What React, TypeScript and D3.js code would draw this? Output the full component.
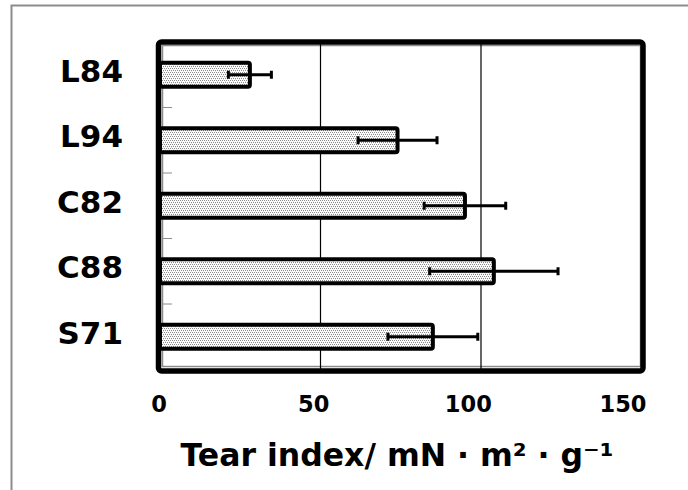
import React from "react";
import * as d3 from "d3";

const categories = ["L84", "L94", "C82", "C88", "S71"];
const values = [28, 74, 95, 104, 85];
const errors = [6.7, 12.3, 12.7, 20, 14];
const xTicks = [0, 50, 100, 150];

const W = 688;
const H = 490;

export default function App() {
  const x = d3.scaleLinear().domain([0, 150]).range([160, 641.5]);
  const xLabel = d3.scaleLinear().domain([0, 150]).range([159, 623]);
  const p = 1 - 24 / 65.5;
  const y = d3
    .scaleBand<string>()
    .domain(categories)
    .range([42, 369.5])
    .paddingInner(p)
    .paddingOuter(p / 2);
  const step = y.step();
  const bw = y.bandwidth();
  const font = "'DejaVu Sans', Verdana, sans-serif";

  return (
    <svg
      width={W}
      height={H}
      style={{ position: "absolute", left: 0, top: 0, background: "#fff" }}
    >
      <defs>
        <pattern id="dots" width={4} height={4} patternUnits="userSpaceOnUse">
          <rect width={4} height={4} fill="#fff" />
          <rect x={0} y={0} width={1} height={1} fill="#8a8a8a" />
          <rect x={2} y={0} width={1} height={1} fill="#8a8a8a" />
          <rect x={1} y={2} width={1} height={1} fill="#8a8a8a" />
          <rect x={3} y={2} width={1} height={1} fill="#8a8a8a" />
          <rect x={1} y={1} width={1} height={1} fill="#e4e4e4" />
          <rect x={3} y={3} width={1} height={1} fill="#e4e4e4" />
        </pattern>
      </defs>
      {/* outer chart border */}
      <rect x={11.5} y={5.5} width={W + 20} height={H + 20} fill="none" stroke="#8c8c8c" strokeWidth={2} />

      {/* plot area border (gray) */}
      <rect x={162.5} y={45.5} width={478} height={321} fill="none" stroke="#8c8c8c" strokeWidth={1.5} />

      {/* gridlines */}
      {xTicks.slice(1, 3).map((t) => (
        <line key={t} x1={x(t)} x2={x(t)} y1={42} y2={369} stroke="#000" strokeWidth={1.2} />
      ))}

      {/* y ticks */}
      {categories.slice(1).map((c, i) => {
        const yy = 42 + (i + 1) * step;
        return <line key={c} x1={162} x2={172} y1={yy} y2={yy} stroke="#8c8c8c" strokeWidth={1} />;
      })}

      {/* bars */}
      {categories.map((c, i) => (
        <rect
          key={c}
          x={x(0)}
          y={y(c)!}
          width={x(values[i]) - x(0)}
          height={bw}
          rx={2}
          fill="url(#dots)"
          stroke="#000"
          strokeWidth={4}
        />
      ))}

      {/* error bars */}
      {categories.map((c, i) => {
        const cy = y(c)! + bw / 2;
        const lo = x(values[i] - errors[i]);
        const hi = x(values[i] + errors[i]);
        return (
          <g key={c} stroke="#000" strokeWidth={3}>
            <line x1={lo} x2={hi} y1={cy} y2={cy} />
            <line x1={lo} x2={lo} y1={cy - 4} y2={cy + 4} />
            <line x1={hi} x2={hi} y1={cy - 4} y2={cy + 4} />
          </g>
        );
      })}

      {/* black frame */}
      <rect x={158.5} y={42} width={484.5} height={329} rx={3} fill="none" stroke="#000" strokeWidth={5.5} />

      {/* category labels */}
      {categories.map((c) => (
        <text
          key={c}
          x={123}
          y={y(c)! + bw / 2 - 4}
          textAnchor="end"
          dominantBaseline="central"
          fontFamily={font}
          fontWeight="bold"
          fontSize={31}
          fill="#000"
        >
          {c}
        </text>
      ))}

      {/* x tick labels */}
      {xTicks.map((t) => (
        <text
          key={t}
          x={xLabel(t)}
          y={412}
          textAnchor="middle"
          fontFamily={font}
          fontWeight="bold"
          fontSize={22.5}
          fill="#000"
        >
          {t}
        </text>
      ))}

      {/* axis title */}
      <text
        x={397}
        y={466}
        textAnchor="middle"
        fontFamily={font}
        fontWeight="bold"
        fontSize={31.5}
        fill="#000"
      >
        Tear index/ mN · m² · g⁻¹
      </text>
    </svg>
  );
}
